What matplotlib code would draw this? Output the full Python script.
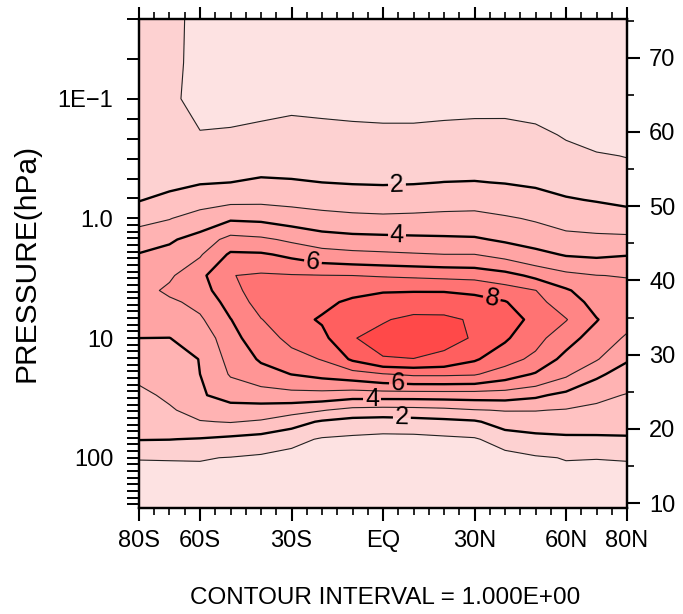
import numpy as np
import matplotlib
matplotlib.use('Agg')
import matplotlib.pyplot as plt
from matplotlib.ticker import FixedLocator, NullFormatter

plt.rcParams['font.family'] = ['Liberation Sans', 'DejaVu Sans']

# latitude columns (80S -> 80N) and pressure rows (hPa, bottom -> top)
lat = [-80, -70, -60, -50, -40, -30, -20, -10, 0, 10, 20, 30, 40, 50, 60, 70, 80]
pres = [270, 200, 150, 100, 70, 50, 40, 30, 20, 15, 10, 7, 5, 4, 3, 2, 1.5,
        1, 0.7, 0.5, 0.3, 0.2, 0.1, 0.05, 0.02]

# field, one row per pressure level
amp = [
    [0.60, 0.60, 0.60, 0.55, 0.55, 0.55, 0.55, 0.57, 0.57, 0.57, 0.57, 0.57, 0.57, 0.62, 0.60, 0.60, 0.60],  # 270
    [0.65, 0.65, 0.65, 0.65, 0.63, 0.60, 0.60, 0.62, 0.60, 0.60, 0.60, 0.62, 0.60, 0.68, 0.65, 0.65, 0.65],  # 200
    [0.70, 0.70, 0.70, 0.78, 0.75, 0.62, 0.65, 0.68, 0.62, 0.62, 0.65, 0.68, 0.62, 0.75, 0.70, 0.70, 0.70],  # 150
    [1.03, 1.04, 1.05, 0.97, 0.85, 0.65, 0.70, 0.75, 0.65, 0.65, 0.70, 0.75, 0.65, 0.90, 1.04, 1.02, 1.05],  # 100
    [2.04, 2.02, 1.94, 1.76, 1.57, 1.29, 0.90, 0.80, 0.70, 0.70, 0.80, 0.90, 1.44, 1.70, 1.81, 1.85, 1.90],  # 70
    [2.34, 2.55, 2.95, 3.05, 2.89, 2.40, 1.88, 1.62, 1.57, 1.64, 1.75, 1.88, 2.42, 2.50, 2.50, 2.41, 2.34],  # 50
    [2.53, 2.89, 3.37, 3.63, 3.55, 3.37, 3.06, 2.69, 2.61, 2.65, 2.75, 2.95, 3.05, 3.04, 2.94, 2.76, 2.60],  # 40
    [2.79, 3.16, 3.90, 4.33, 4.50, 4.61, 4.59, 4.39, 4.42, 4.42, 4.44, 4.45, 4.45, 4.19, 3.71, 3.26, 2.94],  # 30
    [3.19, 3.46, 4.00, 5.09, 5.60, 6.02, 6.29, 6.58, 6.95, 7.17, 7.17, 7.10, 6.50, 5.91, 5.18, 4.18, 3.60],  # 20
    [3.52, 3.68, 4.02, 5.33, 6.12, 6.62, 7.05, 8.15, 8.94, 8.98, 8.75, 8.12, 7.40, 6.75, 5.68, 5.08, 4.09],  # 15
    [4.00, 3.99, 4.30, 5.67, 6.56, 7.26, 7.73, 8.95, 9.30, 9.50, 9.30, 8.92, 8.13, 7.33, 6.38, 5.57, 4.87],  # 10
    [4.22, 4.40, 4.85, 5.97, 6.96, 7.68, 8.10, 8.58, 8.93, 9.20, 9.16, 8.90, 8.50, 7.70, 7.05, 6.05, 5.30],  # 7
    [4.44, 4.82, 5.27, 6.37, 7.40, 7.73, 7.79, 8.16, 8.35, 8.58, 8.62, 8.27, 8.06, 7.29, 6.50, 5.66, 5.58],  # 5
    [4.60, 5.20, 5.59, 6.64, 7.55, 7.44, 7.46, 7.75, 7.93, 7.93, 7.92, 7.85, 7.47, 7.02, 6.13, 5.38, 5.30],  # 4
    [4.38, 4.85, 5.74, 6.97, 7.14, 7.07, 7.03, 7.00, 6.92, 6.85, 6.77, 6.69, 6.36, 5.77, 5.27, 5.02, 4.95],  # 3
    [4.05, 4.31, 4.90, 6.15, 6.12, 5.80, 5.42, 5.27, 5.18, 5.09, 5.01, 5.01, 4.69, 4.27, 3.92, 3.84, 3.95],  # 2
    [3.54, 3.87, 4.38, 5.35, 5.19, 4.82, 4.47, 4.33, 4.28, 4.22, 4.17, 4.12, 3.86, 3.62, 3.32, 3.24, 3.24],  # 1.5
    [2.71, 2.96, 3.44, 3.87, 3.81, 3.59, 3.37, 3.25, 3.20, 3.23, 3.28, 3.30, 3.11, 2.90, 2.62, 2.52, 2.36],  # 1
    [1.95, 2.28, 2.58, 2.76, 2.79, 2.70, 2.60, 2.52, 2.46, 2.52, 2.60, 2.64, 2.50, 2.31, 2.07, 1.95, 1.82],  # 0.7
    [1.85, 1.75, 1.94, 2.00, 2.12, 2.07, 2.00, 1.95, 1.93, 1.95, 2.01, 2.03, 1.97, 1.88, 1.74, 1.61, 1.48],  # 0.5
    [1.75, 1.55, 1.45, 1.54, 1.61, 1.64, 1.60, 1.56, 1.53, 1.53, 1.59, 1.61, 1.59, 1.50, 1.28, 1.09, 0.97],  # 0.3
    [1.60, 1.40, 1.01, 1.17, 1.27, 1.33, 1.29, 1.25, 1.22, 1.22, 1.27, 1.30, 1.28, 1.20, 0.92, 0.67, 0.80],  # 0.2
    [1.45, 1.03, 0.95, 0.53, 0.68, 0.80, 0.75, 0.70, 0.67, 0.67, 0.71, 0.74, 0.76, 0.67, 0.75, 0.60, 0.65],  # 0.1
    [1.42, 1.06, 0.93, 0.45, 0.55, 0.60, 0.60, 0.58, 0.56, 0.56, 0.58, 0.60, 0.62, 0.58, 0.62, 0.55, 0.56],  # 0.05
    [1.40, 1.08, 0.92, 0.40, 0.45, 0.50, 0.50, 0.48, 0.47, 0.47, 0.48, 0.50, 0.52, 0.50, 0.53, 0.50, 0.50],  # 0.02
]

levels = [0, 1, 2, 3, 4, 5, 6, 7, 8, 9, 10]
fill_colors = ['#fde2e2', '#fdd1d1', '#ffc2c2', '#ffb3b3', '#ffa4a4',
               '#ff9595', '#ff8585', '#ff7373', '#ff5f5f', '#ff4949']

xticks = [-80, -60, -30, 0, 30, 60, 80]
xticklabels = ['80S', '60S', '30S', 'EQ', '30N', '60N', '80N']
pticks = [0.1, 1, 10, 100]
pticklabels = ['1E\u22121', '1.0', '10', '100']
zticks = [10, 20, 30, 40, 50, 60, 70]

p_top = 10 ** (-5 / 3)
p_bot = 10 ** 2.42
H = 7.0  # scale height used for the km axis

fig = plt.figure(figsize=(6.83, 6.14), dpi=100)
ax = fig.add_axes([139 / 683, 1 - 508 / 614, 488 / 683, 489 / 614])

ax.contourf(lat, pres, amp, levels=levels, colors=fill_colors)
ax.contour(lat, pres, amp, levels=[1, 3, 5, 7, 9], colors='#222222', linewidths=0.8)
cs = ax.contour(lat, pres, amp, levels=[2, 4, 6, 8], colors='black', linewidths=1.7)

ax.set_yscale('log')
ax.set_ylim(p_bot, p_top)
ax.set_xlim(-80, 80)

label_pos = [(4.6, 0.55), (6.2, 45), (4.6, 1.36), (-3.6, 31.5),
             (-23, 2.33), (4.9, 24.5), (35.7, 4.6)]
ax.clabel(cs, fmt='%d', fontsize=18, inline=True, inline_spacing=2, manual=label_pos)

# x axis
ax.set_xticks(xticks)
ax.set_xticklabels(xticklabels)
ax.xaxis.set_minor_locator(FixedLocator(np.arange(-80, 81, 5)))
ax.tick_params(axis='x', which='major', direction='out', length=9, width=1.5,
               top=True, bottom=True, labelsize=17, pad=7)
ax.tick_params(axis='x', which='minor', direction='out', length=5, width=1.2,
               top=True, bottom=True)

# pressure axis
ax.set_yticks(pticks)
ax.set_yticklabels(pticklabels)
minor_exp = np.concatenate([np.arange(-5, -3) / 3, np.arange(-5, 0) / 6, np.arange(1, 44) / 18])
ax.yaxis.set_minor_locator(FixedLocator(10 ** minor_exp))
ax.yaxis.set_minor_formatter(NullFormatter())
ax.tick_params(axis='y', which='both', direction='out', length=8.5, width=1.4,
               left=True, right=False, labelsize=17, pad=10)

for s in ax.spines.values():
    s.set_linewidth(1.6)

# height axis (km)
ax2 = ax.twinx()
ax2.set_ylim(H * np.log(1000 / p_bot), H * np.log(1000 / p_top))
ax2.set_yticks(zticks)
ax2.yaxis.set_minor_locator(FixedLocator(np.arange(15, 80, 10)))
ax2.tick_params(axis='y', which='major', direction='out', length=9, width=1.5,
                labelsize=17, pad=7)
ax2.tick_params(axis='y', which='minor', direction='out', length=5, width=1.2)
for s in ax2.spines.values():
    s.set_linewidth(1.6)

fig.text(27 / 683, 1 - 263 / 614, 'PRESSURE(hPa)', rotation=90, ha='center', va='center', fontsize=21.5)
fig.text(385 / 683, 1 - 598 / 614, 'CONTOUR INTERVAL = 1.000E+00', ha='center', va='center', fontsize=17.5)

fig.savefig('out.png', dpi=100)
